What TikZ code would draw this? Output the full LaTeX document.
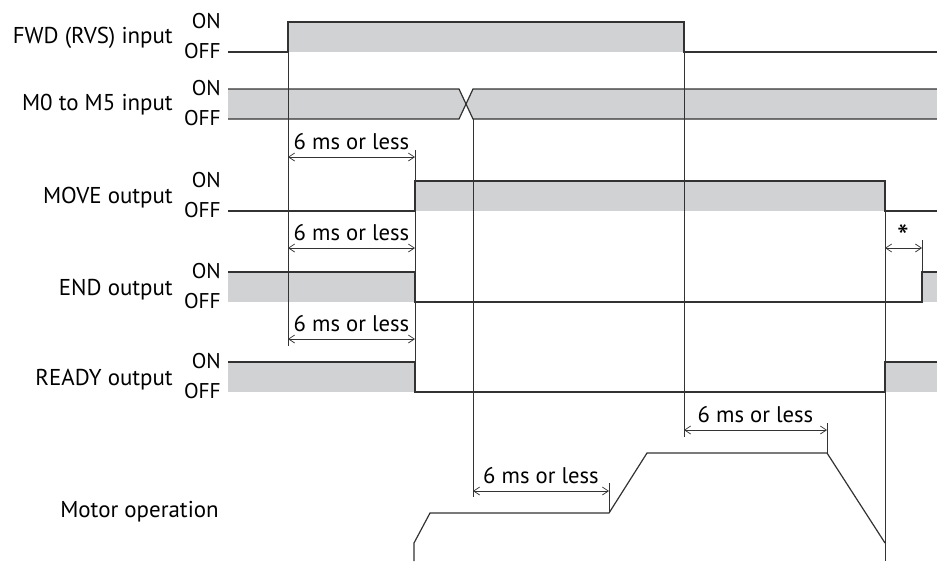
\documentclass[tikz,border=0pt]{standalone}
\usepackage{fontspec}
\setmainfont{PT Sans}
\usetikzlibrary{arrows.meta}

\definecolor{sigfill}{RGB}{209,210,212}
\definecolor{sigline}{RGB}{50,50,50}

\begin{document}
\begin{tikzpicture}[x=0.75pt,y=-0.75pt,
  sig/.style={draw=sigline,line width=0.9pt},
  band/.style={fill=sigfill},
  guide/.style={draw=black!80,line width=0.55pt},
  dim/.style={draw=black!80,line width=0.55pt,{Straight Barb[length=4.5pt,width=6pt]}-{Straight Barb[length=4.5pt,width=6pt]}},
  rowlbl/.style={font=\fontsize{17.2}{20}\selectfont,anchor=base east,inner sep=0pt},
  lvllbl/.style={font=\fontsize{16}{19}\selectfont,anchor=base east,inner sep=0pt},
  dimlbl/.style={font=\fontsize{17}{20}\selectfont,anchor=base,inner sep=0pt,yshift=6pt}]
\useasboundingbox (0,0) rectangle (937,561);

% signal names
\node[rowlbl] (fwd) at (173,43) {FWD (RVS) input};
\node[rowlbl] (msel) at (173,110) {M0 to M5 input};
\node[rowlbl] (move) at (173,203) {MOVE output};
\node[rowlbl] (end) at (173,295) {END output};
\node[rowlbl] (ready) at (173,385) {READY output};
\node[rowlbl] (motor) at (219,517) {Motor operation};
\foreach \n/\y in {fwd/22,msel/89,move/181,end/272,ready/362}{
  \node[lvllbl] (\n on) at (221,\y+6) {ON};
  \node[lvllbl] (\n off) at (221,\y+36) {OFF};
}

% FWD (RVS)
\fill[band] (288,22) rectangle (684,52);
\draw[sig] (228,52) -- (288,52) -- (288,22) -- (684,22) -- (684,52) -- (937,52);
% M0 to M5
\fill[band] (228,89) -- (459,89) -- (466,104) -- (459,119) -- (228,119) -- cycle;
\fill[band] (473,89) -- (466,104) -- (473,119) -- (937,119) -- (937,89) -- cycle;
\draw[sig] (228,89) -- (459,89) -- (473,119) -- (937,119);
\draw[sig] (228,119) -- (459,119) -- (473,89) -- (937,89);
% MOVE
\fill[band] (415,181) rectangle (885,211);
\draw[sig] (228,211) -- (415,211) -- (415,181) -- (885,181) -- (885,211) -- (937,211);
% END
\fill[band] (228,272) rectangle (415,302);
\fill[band] (922,272) rectangle (937,302);
\draw[sig] (228,272) -- (415,272) -- (415,302) -- (922,302) -- (922,272) -- (937,272);
% READY
\fill[band] (228,362) rectangle (415,392);
\fill[band] (885,362) rectangle (937,392);
\draw[sig] (228,362) -- (415,362) -- (415,392) -- (885,392) -- (885,362) -- (937,362);
% motor
\draw[sig] (414,561) -- (414,543) -- (430,513) -- (609,513) -- (647,453) -- (827,453) -- (885,543);

% timing guides
\draw[guide] (288,22) -- (288,346);
\draw[guide] (415,150) -- (415,392);
\draw[guide] (473,119) -- (473,497);
\draw[guide] (684,52) -- (684,437);
\draw[guide] (885,211) -- (885,561);
\draw[guide] (922,240) -- (922,272);
\draw[guide] (609,483) -- (609,513);
\draw[guide] (827,423) -- (827,453);

% delays
\coordinate (d1a) at (288,157); \coordinate (d1b) at (415,157);
\coordinate (d2a) at (288,248); \coordinate (d2b) at (415,248);
\coordinate (d3a) at (288,339); \coordinate (d3b) at (415,339);
\coordinate (d4a) at (885,248); \coordinate (d4b) at (922,248);
\coordinate (d5a) at (473,491); \coordinate (d5b) at (609,491);
\coordinate (d6a) at (684,430); \coordinate (d6b) at (827,430);
\draw[dim] (d1a) -- node[dimlbl] (t1) {6 ms or less} (d1b);
\draw[dim] (d2a) -- node[dimlbl] (t2) {6 ms or less} (d2b);
\draw[dim] (d3a) -- node[dimlbl] (t3) {6 ms or less} (d3b);
\draw[dim] (d4a) -- (d4b);
\node[font=\fontsize{25}{28}\selectfont,inner sep=0pt] (star) at (903,237) {*};
\draw[dim] (d5a) -- node[dimlbl] (t5) {6 ms or less} (d5b);
\draw[dim] (d6a) -- node[dimlbl] (t6) {6 ms or less} (d6b);
\end{tikzpicture}
\end{document}
